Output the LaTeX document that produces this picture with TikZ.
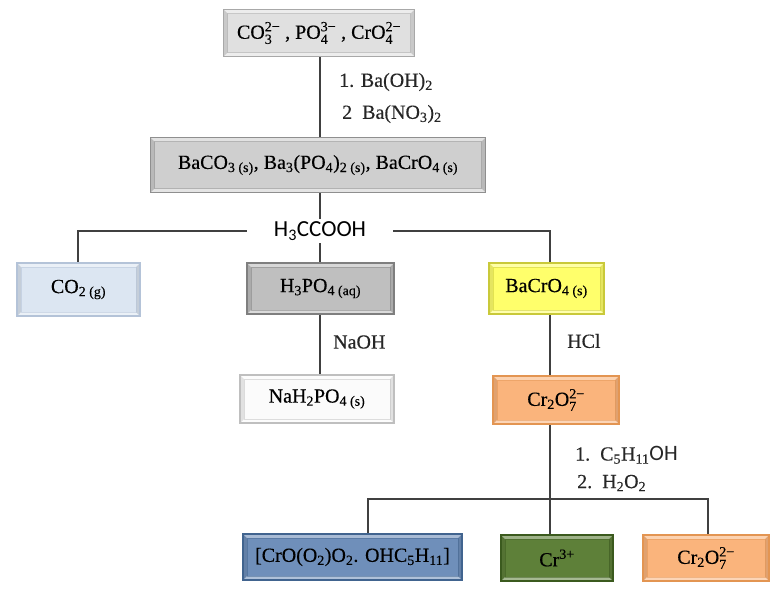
\documentclass[tikz,border=0pt]{standalone}
\usepackage{amsmath}
\usepackage{fontspec}
\setmainfont{Liberation Serif}[FakeBold=0.3]
\newfontfamily\sansf{Carlito}
\usetikzlibrary{calc,backgrounds}
\newcommand\ssp[2]{\ensuremath{{}_{\text{#1}}^{\text{#2}}}}
\newcommand\sbs[1]{\ensuremath{{}_{\text{#1}}}}
\definecolor{gAf}{HTML}{E0E0E0}\definecolor{gAd}{HTML}{A8A8A8}
\definecolor{gBf}{HTML}{CFCFCF}\definecolor{gBd}{HTML}{8F8F8F}
\definecolor{gCf}{HTML}{BFBFBF}\definecolor{gCd}{HTML}{7F7F7F}
\definecolor{cof}{HTML}{DCE6F2}\definecolor{cod}{HTML}{B4C3D8}
\definecolor{whf}{HTML}{FBFBFB}\definecolor{whd}{HTML}{BFBFBF}
\definecolor{ylf}{HTML}{FFFF6B}\definecolor{yld}{HTML}{C9C93A}
\definecolor{orf}{HTML}{FAB47C}\definecolor{ord}{HTML}{E39552}
\definecolor{blf}{HTML}{6F8FBA}\definecolor{bld}{HTML}{41648F}
\definecolor{grf}{HTML}{5E8039}\definecolor{grd}{HTML}{3B5A1E}
\definecolor{ln}{HTML}{404040}
\tikzset{
 bev/.style 2 args={rectangle, draw=#2, line width=1.2pt, fill=#1, inner sep=0pt, text=black,
  path picture={
   \path (path picture bounding box.south west) coordinate (bvsw)
         (path picture bounding box.north east) coordinate (bvne);
   \coordinate (bvnw) at (bvsw |- bvne);
   \coordinate (bvse) at (bvne |- bvsw);
   \fill[white,opacity=.40] (bvnw) -- (bvne) -- ($(bvne)+(-4pt,-4pt)$) -- ($(bvnw)+(4pt,-4pt)$) -- cycle;
   \fill[white,opacity=.45] (bvsw) -- (bvse) -- ($(bvse)+(-4pt,4pt)$) -- ($(bvsw)+(4pt,4pt)$) -- cycle;
   \fill[black,opacity=.10] (bvsw) -- (bvnw) -- ($(bvnw)+(4pt,-4pt)$) -- ($(bvsw)+(4pt,4pt)$) -- cycle;
   \fill[black,opacity=.10] (bvse) -- (bvne) -- ($(bvne)+(-4pt,-4pt)$) -- ($(bvse)+(-4pt,4pt)$) -- cycle;
   \draw[#2,opacity=.5,line width=.6pt] ($(bvsw)+(4pt,4pt)$) rectangle ($(bvne)+(-4pt,-4pt)$);
  }},
 conn/.style={draw=ln, line width=1.5pt},
 lab/.style={anchor=west, inner sep=0pt, text=black!85}
}
\begin{document}
\begin{tikzpicture}[x=1pt,y=-1pt,font=\fontsize{20}{23}\selectfont]
\useasboundingbox (0,0) rectangle (775,592);
% boxes
\node[bev={gAf}{gAd}, minimum width=191pt, minimum height=47pt] (b1) at (319,33) {CO\ssp{3}{2−} , PO\ssp{4}{3−} , CrO\ssp{4}{2−}};
\node[bev={gBf}{gBd}, minimum width=335pt, minimum height=55pt] (b2) at (318,165) {BaCO\sbs{3 (s)}, Ba\sbs{3}(PO\sbs{4})\sbs{2 (s)}, BaCrO\sbs{4 (s)}};
\node[bev={cof}{cod}, minimum width=123pt, minimum height=53pt] (co2) at (78.5,289.5) {CO\sbs{2 (g)}};
\node[bev={gCf}{gCd}, minimum width=147pt, minimum height=51pt] (h3po4) at (320.5,288.5) {H\sbs{3}PO\sbs{4 (aq)}};
\node[bev={whf}{whd}, minimum width=154pt, minimum height=48pt] (nah2) at (317,399) {NaH\sbs{2}PO\sbs{4 (s)}};
\node[bev={ylf}{yld}, minimum width=115pt, minimum height=51pt] (bacro4) at (546.5,288.5) {BaCrO\sbs{4 (s)}};
\node[bev={orf}{ord}, minimum width=126pt, minimum height=48pt] (crm) at (556,400) {Cr\sbs{2}O\ssp{7}{2−}};
\node[bev={blf}{bld}, minimum width=219pt, minimum height=46pt] (cplx) at (352.5,557) {[CrO(O\sbs{2})O\sbs{2}. OHC\sbs{5}H\sbs{11}]};
\node[bev={grf}{grd}, minimum width=112pt, minimum height=46pt] (cr3) at (557,558) {Cr\ensuremath{^{\text{3+}}}};
\node[bev={orf}{ord}, minimum width=126pt, minimum height=46pt] (crr) at (706,558) {Cr\sbs{2}O\ssp{7}{2−}};
% reagent label on the branch
\node[fill=white, minimum width=146pt, minimum height=24pt, inner sep=0pt, font=\fontsize{23}{26}\selectfont] (acid) at (320,231) {\sansf H\sbs{3}CCOOH};
% other labels
\node[lab] (r1) at (339,82) {1. Ba(OH)\sbs{2}};
\node[lab] (r2) at (342,114) {2\enspace Ba(NO\sbs{3})\sbs{2}};
\node[lab] (naoh) at (333,342) {NaOH};
\node[lab] (hcl) at (567,341) {HCl};
\node[lab] (r3) at (575,455) {1.\enspace C\sbs{5}H\sbs{11}{\sansf\fontsize{22}{24}\selectfont OH}};
\node[lab] (r4) at (577,483) {2.\enspace H\sbs{2}O\sbs{2}};
% junction coordinates
\coordinate (ax) at (550,0);
\coordinate (jl) at (78,231);
\coordinate (jr) at (550,231);
\coordinate (bl) at (368,499);
\coordinate (br) at (708,499);
\begin{scope}[on background layer]
\draw[conn] (b1.south -| 320,0) -- (b2.north -| 320,0);
\draw[conn] (b2.south -| 320,0) -- (h3po4.north -| 320,0);
\draw[conn] (co2.north -| jl) -- (jl) -- (jr) -- (bacro4.north -| jr);
\draw[conn] (h3po4.south -| 320,0) -- (nah2.north -| 320,0);
\draw[conn] (bacro4.south -| ax) -- (crm.north -| ax);
\draw[conn] (crm.south -| ax) -- (cr3.north -| ax);
\draw[conn] (cplx.north -| bl) -- (bl) -- (br) -- (crr.north -| br);
\end{scope}
\end{tikzpicture}
\end{document}
